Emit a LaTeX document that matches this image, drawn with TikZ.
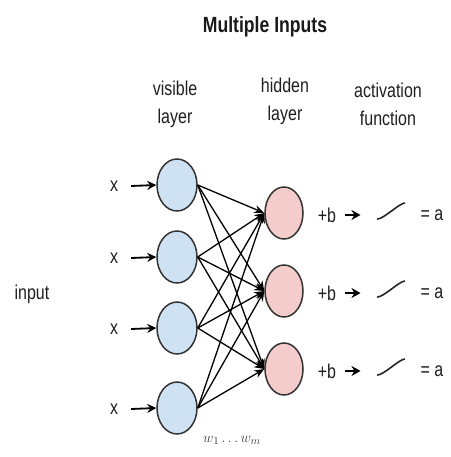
\documentclass[tikz,border=0pt]{standalone}
\usepackage{fontspec}
\setmainfont[FakeStretch=0.8]{Liberation Sans}
\usetikzlibrary{arrows.meta,shapes.geometric}
\definecolor{vis}{HTML}{CFE2F3}
\definecolor{hid}{HTML}{F4CCCC}
\definecolor{edge}{HTML}{333333}
\begin{document}
\begin{tikzpicture}[x=1pt,y=-1pt,
  titlestyle/.style={font=\fontsize{22}{26}\selectfont\bfseries, text=black!90},
  lbl/.style={font=\fontsize{20}{28}\selectfont, align=center, text=black!88, inner sep=0pt},
  txt/.style={font=\fontsize{20}{24}\selectfont, text=black!88, inner sep=0pt},
  visnode/.style={ellipse, draw=edge, line width=1.5pt, fill=vis, minimum width=40pt, minimum height=52pt, inner sep=0pt},
  hidnode/.style={ellipse, draw=edge, line width=1.5pt, fill=hid, minimum width=38pt, minimum height=52pt, inner sep=0pt},
  inarrow/.style={line width=1.8pt, -{Stealth[length=9pt,width=9pt]}},
  barrow/.style={line width=1.6pt, -{Stealth[length=9pt,width=10pt]}},
  netarrow/.style={line width=1.3pt, -{Stealth[length=10pt,width=8pt]}},
  sigbox/.style={minimum width=27pt, minimum height=16pt, inner sep=0pt, outer sep=0pt},
  sig/.style={line width=1.6pt, line cap=round, draw=black!85}
]
\useasboundingbox (0,0) rectangle (450,457);

\node[titlestyle] (title) at (265,27) {Multiple Inputs};
\node[lbl] (vl) at (175,104) {visible\\layer};
\node[lbl] (hl) at (285,101) {hidden\\layer};
\node[lbl] (al) at (388,104) {activation\\function};

\node[txt] (input) at (32,294) {input};

% visible layer
\foreach \i/\y in {1/185,2/257,3/328,4/408}{
  \node[visnode] (v\i) at (177,\y) {};
  \node[txt] (x\i) at (114,\y+1) {x};
  \path (x\i.east) ++(13,0) coordinate (xs\i);
  \draw[inarrow] (xs\i) -- (v\i.west);
}

% hidden layer
\foreach \j/\y in {1/213,2/291,3/369}{
  \node[hidnode] (h\j) at (284,\y) {};
  \node[txt] (b\j) at (327,\y+2) {+b};
  \node[sigbox] (s\j) at (391,\y-2) {};
  \node[txt] (a\j) at (432,\y+2) {= a};
  \path (s\j.west) ++(-17,0) coordinate (t\j);
  \draw[barrow, shorten <=9pt] (b\j.east) -- (b\j.east -| t\j);
  \draw[sig] (s\j.south west) .. controls ++(6,0) and ++(-6,1) .. (s\j.north east);
}

% connections
\foreach \i in {1,2,3,4}{
  \foreach \j in {1,2,3}{
    \draw[netarrow] (v\i.east) -- (h\j.west);
  }
}

\node[font=\fontsize{15}{18}\selectfont\itshape, text=black!75] (w) at (232,440) {$w_1 \ldots w_m$};
\end{tikzpicture}
\end{document}
